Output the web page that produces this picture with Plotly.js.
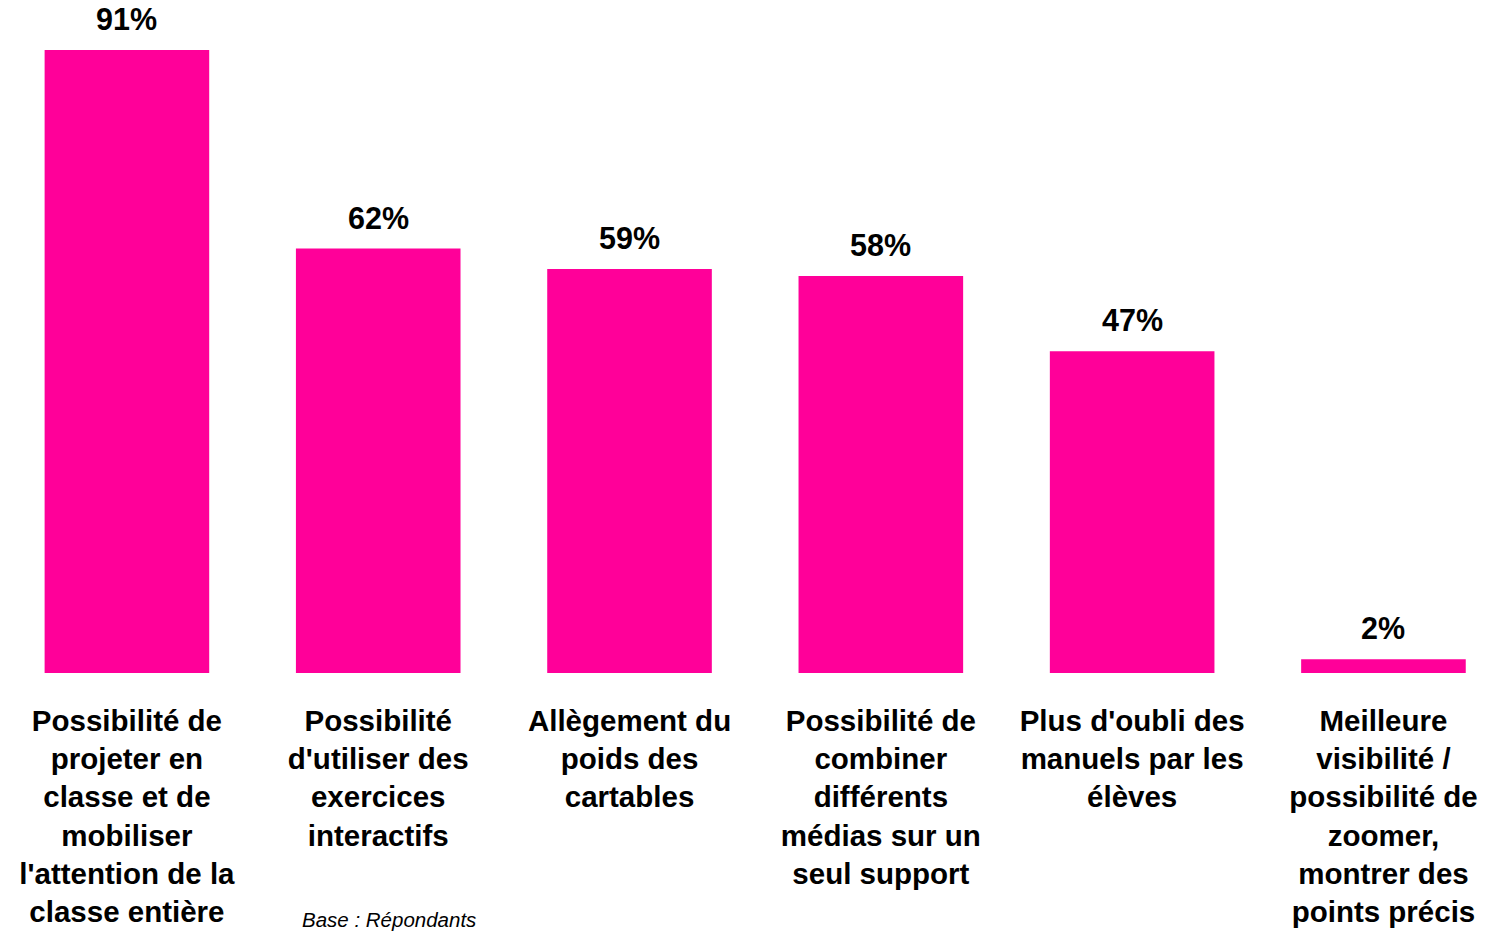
<!DOCTYPE html>
<html>
<head>
<meta charset="utf-8">
<script src="https://cdn.plot.ly/plotly-3.0.1.min.js"></script>
<style>html,body{margin:0;padding:0;background:#fff;}#chart{width:1489px;height:931px;}</style>
</head>
<body>
<div id="chart"></div>
<script>
const categories = [
  "Possibilité de<br>projeter en<br>classe et de<br>mobiliser<br>l'attention de la<br>classe entière",
  "Possibilité<br>d'utiliser des<br>exercices<br>interactifs",
  "Allègement du<br>poids des<br>cartables",
  "Possibilité de<br>combiner<br>différents<br>médias sur un<br>seul support",
  "Plus d'oubli des<br>manuels par les<br>élèves",
  "Meilleure<br>visibilité /<br>possibilité de<br>zoomer,<br>montrer des<br>points précis"
];
const values = [91, 62, 59, 58, 47, 2];
const footnote = "Base : Répondants";

const FONT = "'Liberation Sans', Arial, sans-serif";

const trace = {
  type: 'bar',
  x: categories,
  y: values,
  marker: {color: '#FF0099'},
  hoverinfo: 'none',
  cliponaxis: false
};

const annotations = values.map((v, i) => ({
  x: categories[i], y: v, xref: 'x', yref: 'y',
  text: v + '%', showarrow: false, yanchor: 'bottom', yshift: 12,
  font: {family: FONT, size: 30.5, color: '#000', weight: 'bold'}
}));
annotations.push({
  xref: 'paper', yref: 'paper', x: 300/1489, y: -246/623,
  xanchor: 'left', yanchor: 'middle', showarrow: false,
  text: '<i>' + footnote + '</i>',
  font: {family: FONT, size: 20.5, color: '#000'}
});

const layout = {
  width: 1489, height: 931,
  margin: {l: 0, r: 0, t: 50, b: 258, pad: 0},
  paper_bgcolor: '#fff', plot_bgcolor: '#fff',
  showlegend: false,
  bargap: 0.345,
  xaxis: {
    type: 'category',
    range: [-0.505, 5.42],
    showgrid: false, zeroline: false, showline: false, ticks: '',
    ticklabelstandoff: 27,
    tickfont: {family: FONT, size: 29.5, color: '#000', weight: 'bold'},
    automargin: false
  },
  yaxis: {
    range: [0, 91],
    visible: false, showgrid: false, zeroline: false
  },
  annotations: annotations
};

Plotly.newPlot('chart', [trace], layout, {displayModeBar: false, staticPlot: true});
</script>
</body>
</html>
